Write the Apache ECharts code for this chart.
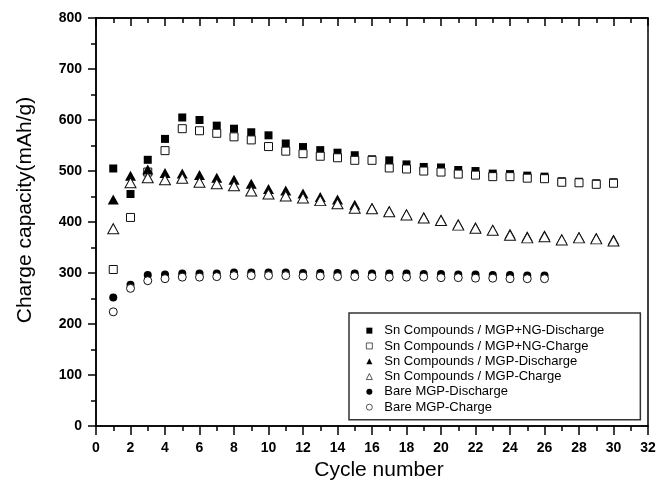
<!DOCTYPE html>
<html>
<head>
<meta charset="utf-8">
<script src="https://cdn.jsdelivr.net/npm/echarts@6/dist/echarts.min.js"></script>
<style>
  html, body { margin: 0; padding: 0; background: #fff; }
  #chart { width: 670px; height: 486px; }
</style>
</head>
<body>
<div id="chart"></div>
<script>
// cycle numbers
var cycles = [1, 2, 3, 4, 5, 6, 7, 8, 9, 10, 11, 12, 13, 14, 15, 16, 17, 18, 19, 20, 21, 22, 23, 24, 25, 26, 27, 28, 29, 30]
var seriesNames = [
  'Sn Compounds / MGP+NG-Discharge',
  'Sn Compounds / MGP+NG-Charge',
  'Sn Compounds / MGP-Discharge',
  'Sn Compounds / MGP-Charge',
  'Bare MGP-Discharge',
  'Bare MGP-Charge'
]
// capacity values (mAh/g)
var snNgDischarge = [505, 455, 522, 563, 605, 600, 589, 583, 576, 570, 554, 547, 541, 536, 531, 523, 521, 513, 508, 507, 502, 500, 495, 494, 491, 489, 480, 479, 476, 478]
var snNgCharge = [307, 409, 498, 540, 583, 579, 574, 567, 561, 548, 539, 534, 529, 526, 521, 521, 506, 504, 500, 498, 494, 492, 489, 489, 486, 485, 478, 477, 474, 476]
var snDischarge = [444, 491, 503, 496, 495, 492, 487, 483, 475, 465, 462, 456, 449, 444, 434, 428, 422, 416, 410, 405, 396, 390, 385, 377, 372, 374, 367, 371, 369, 366]
var snCharge = [387, 477, 487, 483, 486, 478, 475, 471, 461, 455, 451, 447, 442, 436, 427, 426, 420, 414, 408, 403, 394, 388, 384, 374, 369, 371, 365, 369, 367, 363]
var bareDischarge = [252, 277, 296, 297, 299, 299, 299, 301, 301, 301, 301, 300, 300, 300, 299, 299, 299, 299, 298, 298, 297, 297, 296, 296, 295, 295]
var bareCharge = [224, 270, 285, 289, 292, 292, 293, 295, 295, 295, 295, 294, 294, 293, 293, 293, 292, 292, 292, 291, 291, 290, 290, 289, 289, 289]

function pairs (vals) {
  return vals.map(function (v, i) { return [cycles[i], v] })
}

var chart = echarts.init(document.getElementById('chart'))
var font = 'Liberation Sans, Arial, sans-serif'
var filled = { color: '#000', opacity: 1 }
var hollow = { color: '#fff', borderColor: '#111', borderWidth: 1, opacity: 1 }

function scatter (name, vals, symbol, size, style) {
  return {
    name: name,
    type: 'scatter',
    symbol: symbol,
    symbolSize: size,
    itemStyle: style,
    data: pairs(vals)
  }
}

chart.setOption({
  backgroundColor: '#fff',
  animation: false,
  grid: {
    left: 96,
    right: 22,
    top: 18,
    bottom: 59,
    show: true,
    borderColor: '#000',
    borderWidth: 1.5
  },
  legend: {
    orient: 'vertical',
    left: 349,
    top: 313,
    padding: [10, 36, 5, 17],
    borderColor: '#333',
    borderWidth: 1.5,
    itemWidth: 6,
    itemHeight: 6,
    itemGap: 0,
    itemStyle: { borderWidth: 0.7 },
    // extra left padding pushes the text away from the symbol
    textStyle: { fontFamily: font, fontSize: 13, lineHeight: 15.3, color: '#000', padding: [0, 0, 0, 7] },
    data: seriesNames
  },
  xAxis: [
    {
      type: 'value',
      min: 0,
      max: 32,
      interval: 2,
      name: 'Cycle number',
      nameLocation: 'middle',
      nameGap: 20,
      nameTextStyle: { fontFamily: font, fontSize: 21, color: '#000', padding: [0, 0, 0, 14] },
      axisLine: { lineStyle: { color: '#000', width: 1.5 } },
      axisTick: { inside: false, length: 9, lineStyle: { color: '#000', width: 1.5 } },
      minorTick: { show: true, splitNumber: 2, length: 5, lineStyle: { color: '#000', width: 1.5 } },
      axisLabel: { margin: 15, fontFamily: font, fontSize: 14, fontWeight: 'bold', color: '#000' },
      splitLine: { show: false }
    },
    {
      // top frame ticks
      type: 'value',
      position: 'top',
      min: 0,
      max: 32,
      interval: 2,
      axisLine: { lineStyle: { color: '#000', width: 1.5 } },
      axisTick: { inside: true, length: 8, lineStyle: { color: '#000', width: 1.5 } },
      minorTick: { show: true, splitNumber: 2, length: 5, lineStyle: { color: '#000', width: 1.5 } },
      axisLabel: { show: false },
      splitLine: { show: false }
    }
  ],
  yAxis: {
    type: 'value',
    min: 0,
    max: 800,
    interval: 100,
    name: 'Charge capacity(mAh/g)',
    nameLocation: 'middle',
    nameGap: 60,
    nameTextStyle: { fontFamily: font, fontSize: 21, color: '#000', padding: [0, 0, 0, 24] },
    axisLine: { show: true, lineStyle: { color: '#000', width: 1.5 } },
    axisTick: { inside: false, length: 8, lineStyle: { color: '#000', width: 1.5 } },
    minorTick: { show: true, splitNumber: 2, length: 5, lineStyle: { color: '#000', width: 1.5 } },
    axisLabel: { margin: 14, fontFamily: font, fontSize: 14, fontWeight: 'bold', color: '#000' },
    splitLine: { show: false }
  },
  series: [
    scatter(seriesNames[0], snNgDischarge, 'rect', 8, filled),
    scatter(seriesNames[1], snNgCharge, 'rect', 8, hollow),
    scatter(seriesNames[2], snDischarge, 'triangle', [11, 10], filled),
    scatter(seriesNames[3], snCharge, 'triangle', [11, 10], hollow),
    scatter(seriesNames[4], bareDischarge, 'circle', 8, filled),
    scatter(seriesNames[5], bareCharge, 'circle', 8, hollow)
  ]
})
</script>
</body>
</html>
